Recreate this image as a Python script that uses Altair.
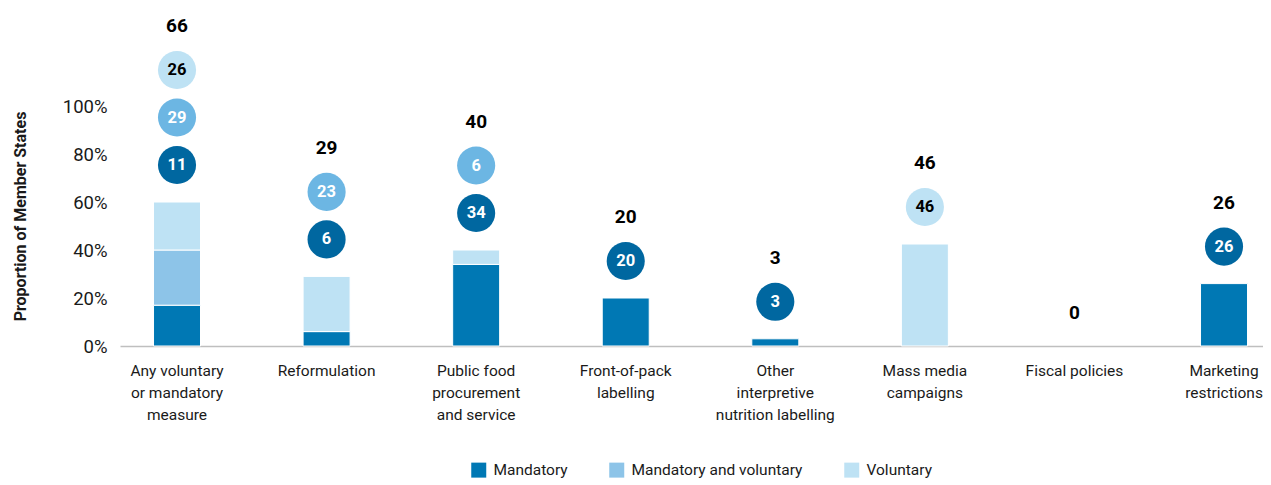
import altair as alt
import pandas as pd

FONT = "Roboto"

categories = [
    "Any voluntary|or mandatory|measure",
    "Reformulation",
    "Public food|procurement|and service",
    "Front-of-pack|labelling",
    "Other|interpretive|nutrition labelling",
    "Mass media|campaigns",
    "Fiscal policies",
    "Marketing|restrictions",
]
types = ["Mandatory", "Mandatory and voluntary", "Voluntary"]

# bar heights (proportion of Member States, %)
pct_mandatory = [17, 6, 34, 20, 3, 0, 0, 26]
pct_mand_vol = [23, 0, 0, 0, 0, 0, 0, 0]
pct_voluntary = [20, 23, 6, 0, 0, 42.5, 0, 0]

# circle counts
cnt_mandatory = [11, 6, 34, 20, 3, None, None, 26]
cnt_mand_vol = [29, 23, 6, None, None, None, None, None]
cnt_voluntary = [26, None, None, None, None, 46, None, None]
totals = [66, 29, 40, 20, 3, 46, 0, 26]

bar_colors = ["#0078B4", "#8DC4E8", "#BEE2F4"]
circle_colors = ["#0067A0", "#6CB6E3", "#BEE2F4"]
circle_text_colors = ["white", "white", "black"]

PX_PER_UNIT = 240.0  # pixels per 100% (used for spacing above the bars)

bar_rows, circ_rows, tot_rows = [], [], []
for i, c in enumerate(categories):
    pcts = [pct_mandatory[i], pct_mand_vol[i], pct_voluntary[i]]
    top = sum(pcts) / 100.0
    for j, t in enumerate(types):
        if pcts[j] > 0:
            bar_rows.append({"cat": c, "type": t, "value": pcts[j] / 100.0, "ord": j})
    cnts = [cnt_mandatory[i], cnt_mand_vol[i], cnt_voluntary[i]]
    k = 0
    for j, t in enumerate(types):
        if cnts[j] is not None:
            circ_rows.append({
                "cat": c, "type": t, "count": str(cnts[j]),
                "y": top + (37 + 47.5 * k) / PX_PER_UNIT,
                "fill": circle_colors[j], "tcolor": circle_text_colors[j],
            })
            k += 1
    tot_rows.append({"cat": c, "total": str(totals[i]),
                     "y": top + (37 + 47.5 * (k - 1) + 44) / PX_PER_UNIT})

bars_df = pd.DataFrame(bar_rows)
circ_df = pd.DataFrame(circ_rows)
tot_df = pd.DataFrame(tot_rows)

xscale = alt.Scale(domain=categories, paddingInner=0.6858, paddingOuter=0.1638, align=0.684)
yscale = alt.Scale(domain=[0, 1.4], nice=False)

x_axis = alt.Axis(title=None, labelAngle=0, labelExpr="split(datum.label, '|')",
                  labelFont=FONT, labelFontSize=15.5, labelLineHeight=22,
                  labelColor="#1a1a1a", labelPadding=17, ticks=False,
                  domainColor="#BFBFBF", domainWidth=1.5, labelOverlap=False,
                  labelLimit=300)
y_axis = alt.Axis(values=[0, 0.2, 0.4, 0.6, 0.8, 1.0], format=".0%", grid=False,
                  domain=False, ticks=False, labelPadding=13,
                  labelFont=FONT, labelFontSize=18.5, labelColor="#1a1a1a",
                  title="Proportion of Member States", titleFont=FONT,
                  titleFontSize=16, titleFontWeight="bold", titleColor="#1a1a1a",
                  titleX=-100, titleY=206, titleBaseline="middle", titleAngle=270)


def X():
    return alt.X("cat:N", sort=categories, scale=xscale, axis=x_axis, title=None)


bars = alt.Chart(bars_df).mark_bar(stroke="white", strokeWidth=1).encode(
    x=X(),
    y=alt.Y("value:Q", stack="zero", scale=yscale, axis=y_axis,
            title="Proportion of Member States"),
    color=alt.Color("type:N", scale=alt.Scale(domain=types, range=bar_colors),
                    legend=alt.Legend(title=None, orient="none", direction="horizontal",
                                      legendX=351, legendY=452, symbolType="square",
                                      symbolSize=225, symbolStrokeWidth=0,
                                      labelFont=FONT, labelFontSize=15.5, labelColor="#1a1a1a",
                                      labelOffset=7, columnPadding=41, padding=0,
                                      labelLimit=400)),
    order=alt.Order("ord:Q"),
)

circles = alt.Chart(circ_df).mark_circle(size=1452, opacity=1).encode(
    x=X(),
    y=alt.Y("y:Q", scale=yscale, axis=y_axis, title="Proportion of Member States"),
    fill=alt.Fill("fill:N", scale=None),
)

circle_text = alt.Chart(circ_df).mark_text(font=FONT, fontSize=16.5, fontWeight="bold",
                                            baseline="middle", align="center").encode(
    x=X(),
    y=alt.Y("y:Q", scale=yscale, axis=y_axis, title="Proportion of Member States"),
    text="count:N",
    color=alt.Color("tcolor:N", scale=None),
)

total_text = alt.Chart(tot_df).mark_text(font=FONT, fontSize=19, fontWeight="bold",
                                          baseline="middle", align="center",
                                          color="black").encode(
    x=X(),
    y=alt.Y("y:Q", scale=yscale, axis=y_axis, title="Proportion of Member States"),
    text="total:N",
)

chart = alt.layer(bars, circles, circle_text, total_text).properties(
    width=1143, height=336,
    background="white",
    autosize=alt.AutoSizeParams(type="none"),
    padding={"left": 112, "top": 2, "right": 0, "bottom": 134},
).configure_view(strokeWidth=0)

chart.save("out.html", embed_options={"renderer": "svg", "actions": False})
